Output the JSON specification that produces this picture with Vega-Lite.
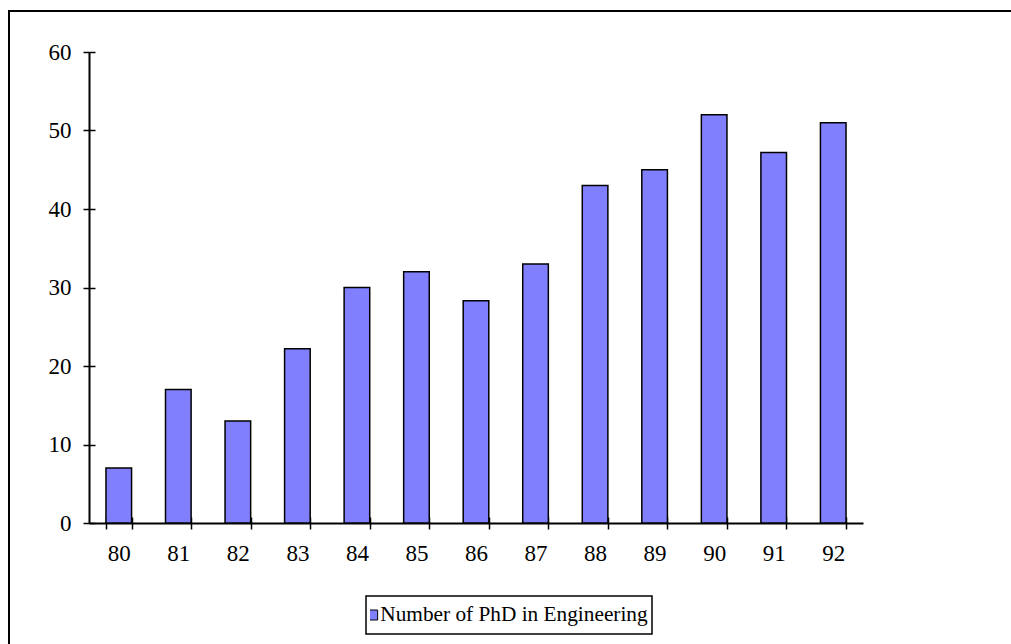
{
  "$schema": "https://vega.github.io/schema/vega-lite/v6.json",
  "width": 1010,
  "height": 640,
  "autosize": {"type": "none"},
  "padding": {"left": 9, "top": 11, "right": 0, "bottom": 0},
  "background": "white",
  "config": {"view": {"stroke": "black", "strokeWidth": 2}, "font": "Liberation Serif"},
  "data": {
    "values": [
      {"year": "80", "phd": 7, "series": "Number of PhD in Engineering"},
      {"year": "81", "phd": 17, "series": "Number of PhD in Engineering"},
      {"year": "82", "phd": 13, "series": "Number of PhD in Engineering"},
      {"year": "83", "phd": 22.2, "series": "Number of PhD in Engineering"},
      {"year": "84", "phd": 30, "series": "Number of PhD in Engineering"},
      {"year": "85", "phd": 32, "series": "Number of PhD in Engineering"},
      {"year": "86", "phd": 28.3, "series": "Number of PhD in Engineering"},
      {"year": "87", "phd": 33, "series": "Number of PhD in Engineering"},
      {"year": "88", "phd": 43, "series": "Number of PhD in Engineering"},
      {"year": "89", "phd": 45, "series": "Number of PhD in Engineering"},
      {"year": "90", "phd": 52, "series": "Number of PhD in Engineering"},
      {"year": "91", "phd": 47.2, "series": "Number of PhD in Engineering"},
      {"year": "92", "phd": 51, "series": "Number of PhD in Engineering"}
    ]
  },
  "layer": [
    {
      "mark": {"type": "bar", "stroke": "black", "strokeWidth": 1.5},
      "encoding": {
        "x": {
          "field": "year", "type": "ordinal", "sort": null,
          "scale": {"range": [80, 854], "paddingInner": 0.57, "paddingOuter": 0.285},
          "axis": {"orient": "bottom", "offset": -128, "title": null, "grid": false, "tickBand": "extent",
            "domainColor": "black", "domainWidth": 2, "tickColor": "black", "tickWidth": 1.5, "tickSize": 6,
            "labelFont": "Liberation Serif", "labelFontSize": 23, "labelColor": "black", "labelPadding": 13, "labelAngle": 0}
        },
        "y": {
          "field": "phd", "type": "quantitative",
          "scale": {"domain": [0, 60], "range": [512, 41], "nice": false, "zero": true},
          "axis": {"orient": "left", "offset": -80, "values": [0, 10, 20, 30, 40, 50, 60], "title": null, "grid": false,
            "domainColor": "black", "domainWidth": 2, "tickColor": "black", "tickWidth": 1.5, "tickSize": 6,
            "labelFont": "Liberation Serif", "labelFontSize": 23, "labelColor": "black", "labelPadding": 12}
        },
        "color": {
          "field": "series", "type": "nominal", "scale": {"range": ["#8080FF"]},
          "legend": {"orient": "none", "legendX": 357, "legendY": 585, "title": null, "symbolType": "square",
            "symbolSize": 100, "symbolStrokeColor": "black", "symbolStrokeWidth": 1, "labelFontSize": 21.3,
            "labelColor": "black", "labelFont": "Liberation Serif", "strokeColor": "black",
            "padding": 4, "clipHeight": 30, "symbolOffset": -8, "labelOffset": -3, "labelLimit": 400, "fillColor": "white",
            "encode": {"legend": {"update": {"strokeWidth": {"value": 1.5}}}}}
        }
      }
    },
    {
      "mark": {"type": "bar", "opacity": 0},
      "encoding": {
        "x": {
          "field": "year", "type": "ordinal", "sort": null,
          "axis": {"orient": "top", "offset": -512, "title": null, "labels": false, "domain": false, "grid": false,
            "tickBand": "extent", "tickColor": "black", "tickWidth": 1.5, "tickSize": 6}
        },
        "y": {
          "field": "phd", "type": "quantitative",
          "axis": {"orient": "right", "offset": -930, "values": [0, 10, 20, 30, 40, 50, 60], "title": null,
            "labels": false, "domain": false, "grid": false, "tickColor": "black", "tickWidth": 1.5, "tickSize": 6}
        }
      }
    }
  ],
  "resolve": {"axis": {"x": "independent", "y": "independent"}}
}
